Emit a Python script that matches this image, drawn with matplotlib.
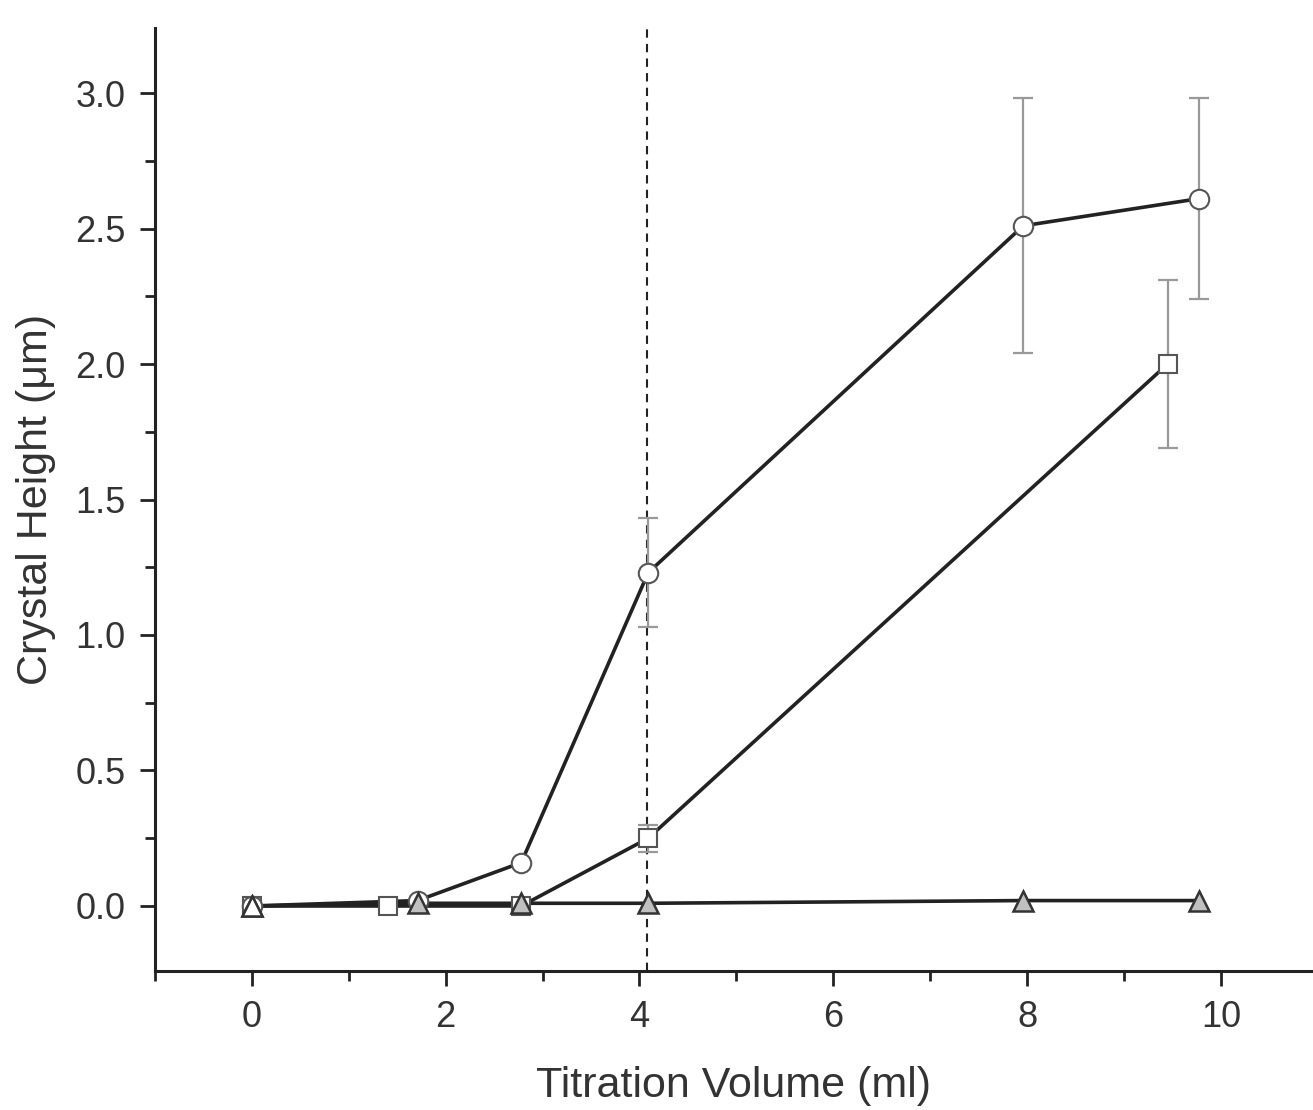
import numpy as np
import matplotlib
matplotlib.use("Agg")
import matplotlib.pyplot as plt
from matplotlib.ticker import MultipleLocator

plt.rcParams['font.family'] = ['Liberation Sans', 'DejaVu Sans']

# circles
x_circ = [0, 1.71, 2.78, 4.09, 7.96, 9.77]
y_circ = [0, 0.02, 0.16, 1.23, 2.51, 2.61]
e_circ = [0, 0, 0, 0.20, 0.47, 0.37]

# squares
x_sq = [0, 1.40, 2.78, 4.09, 9.45]
y_sq = [0, 0.0, 0.0, 0.25, 2.00]
e_sq = [0, 0, 0, 0.05, 0.31]

# triangles
x_tri = [0, 1.71, 2.78, 4.09, 7.96, 9.77]
y_tri = [0, 0.01, 0.01, 0.01, 0.02, 0.02]

x_dash = 4.08

fig = plt.figure(figsize=(13.13, 11.10), dpi=100)
ax = fig.add_axes([0.118, 0.1252, 0.882, 0.8496])

ax.errorbar(x_circ, y_circ, yerr=e_circ, fmt='none', ecolor='#999999',
            elinewidth=1.6, capsize=7.5, capthick=1.6, zorder=2)
ax.errorbar(x_sq, y_sq, yerr=e_sq, fmt='none', ecolor='#999999',
            elinewidth=1.6, capsize=7.5, capthick=1.6, zorder=2)

ax.plot(x_tri, y_tri, '-', color='#222222', lw=2.6, zorder=3)
ax.plot(x_sq, y_sq, '-', color='#222222', lw=2.6, zorder=3)
ax.plot(x_circ, y_circ, '-', color='#222222', lw=2.6, zorder=3)

ax.plot(x_tri, y_tri, '^', ms=15, mfc='#c0c0c0', mec='#333333', mew=1.8, ls='none', zorder=5)
ax.plot(x_tri[:1], y_tri[:1], '^', ms=15, mfc='white', mec='#333333', mew=1.8, ls='none', zorder=6)
ax.plot(x_sq, y_sq, 's', ms=13, mfc='white', mec='#555555', mew=1.5, ls='none', zorder=4)
ax.plot(x_circ, y_circ, 'o', ms=14, mfc='white', mec='#555555', mew=1.5, ls='none', zorder=4)

ax.axvline(x_dash, color='#222222', ls=(0, (4, 3)), lw=1.5, zorder=1)

ax.set_xlim(-1, 10.95)
ax.set_ylim(-0.24, 3.24)
ax.xaxis.set_major_locator(MultipleLocator(2))
ax.xaxis.set_minor_locator(MultipleLocator(1))
ax.yaxis.set_major_locator(MultipleLocator(0.5))
ax.yaxis.set_minor_locator(MultipleLocator(0.25))
ax.yaxis.set_major_formatter(matplotlib.ticker.FormatStrFormatter('%.1f'))

for s in ['top', 'right']:
    ax.spines[s].set_visible(False)
for s in ['left', 'bottom']:
    ax.spines[s].set_linewidth(2.2)
    ax.spines[s].set_color('#222222')

ax.tick_params(which='major', direction='out', length=11, width=2, colors='#222222',
               labelsize=26, labelcolor='#333333', pad=10)
ax.tick_params(which='minor', direction='out', length=7, width=2, colors='#222222')

ax.set_xlabel('Titration Volume (ml)', fontsize=31, color='#333333', labelpad=22)
ax.set_ylabel('Crystal Height (\u03bcm)', fontsize=31, color='#333333', labelpad=14)

fig.savefig('out.png', dpi=100)
